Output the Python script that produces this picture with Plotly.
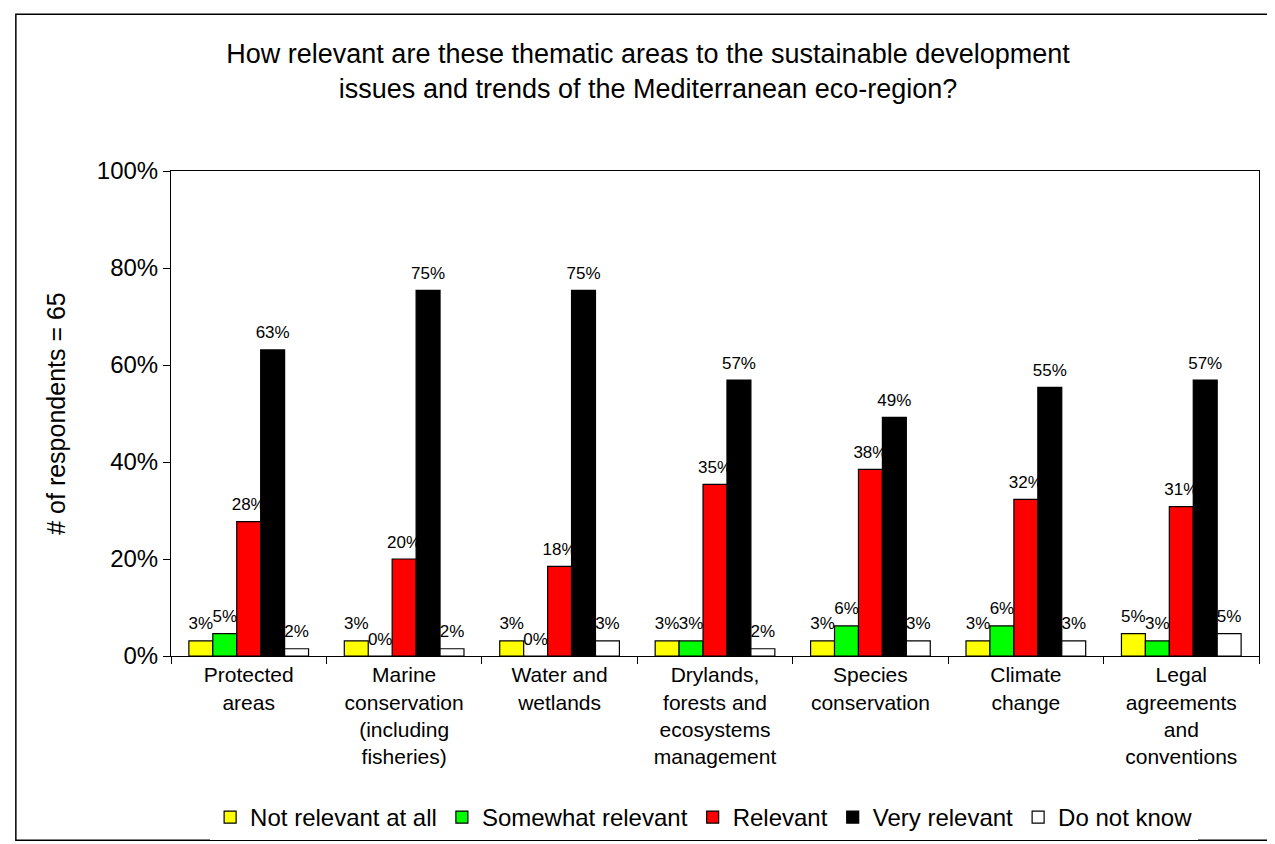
import plotly.graph_objects as go

categories = ["Protected<br>areas", "Marine<br>conservation<br>(including<br>fisheries)",
              "Water and<br>wetlands", "Drylands,<br>forests and<br>ecosystems<br>management",
              "Species<br>conservation", "Climate<br>change",
              "Legal<br>agreements<br>and<br>conventions"]

not_relevant = [0.031, 0.031, 0.031, 0.031, 0.031, 0.031, 0.046]
somewhat_relevant = [0.046, 0.0, 0.0, 0.031, 0.062, 0.062, 0.031]
relevant = [0.277, 0.200, 0.1846, 0.354, 0.3846, 0.323, 0.308]
very_relevant = [0.631, 0.754, 0.754, 0.569, 0.492, 0.554, 0.569]
do_not_know = [0.015, 0.015, 0.031, 0.015, 0.031, 0.031, 0.046]

series = [
    ("Not relevant at all", not_relevant, "#FFFF00"),
    ("Somewhat relevant", somewhat_relevant, "#00FF00"),
    ("Relevant", relevant, "#FF0000"),
    ("Very relevant", very_relevant, "#000000"),
    ("Do not know", do_not_know, "#FFFFFF"),
]

font_family = "Liberation Sans, Arial, sans-serif"

fig = go.Figure()
for i, (name, vals, color) in enumerate(series):
    fig.add_trace(go.Bar(
        name=name, x=categories, y=vals, offsetgroup=str(i),
        marker=dict(color=color, line=dict(color="black", width=1.2)),
    ))
for i, (name, vals, color) in enumerate(series):
    fig.add_trace(go.Scatter(
        name=name, x=categories, y=vals, offsetgroup=str(i),
        mode="markers+text", showlegend=False,
        marker=dict(size=10, opacity=0, color=color),
        text=[f"{v:.0%}" for v in vals], textposition="top center",
        textfont=dict(size=17, color="black", family=font_family),
        cliponaxis=False, hoverinfo="skip",
    ))

fig.update_layout(
    width=1275, height=844,
    barmode="group", bargap=0.23, bargroupgap=0,
    scattermode="group", scattergap=0.23,
    plot_bgcolor="white", paper_bgcolor="white",
    margin=dict(l=163, r=24, t=163, b=192),
    font=dict(family=font_family, color="black"),
    title=dict(
        text="How relevant are these thematic areas to the sustainable development<br>issues and trends of the Mediterranean eco-region?",
        x=0.502, xanchor="center", y=0.935, yanchor="middle",
        font=dict(size=27, family=font_family, color="black"),
    ),
    yaxis=dict(
        range=[0, 1], tickvals=[0, 0.2, 0.4, 0.6, 0.8, 1.0],
        ticktext=["0%", "20%", "40%", "60%", "80%", "100%"],
        ticks="outside", ticklen=7, tickcolor="black",
        showgrid=False, showline=True, linecolor="black", linewidth=1,
        mirror=True, zeroline=False,
        tickfont=dict(size=24, family=font_family),
        title=dict(text="# of respondents = 65", font=dict(size=25, family=font_family), standoff=24),
    ),
    xaxis=dict(
        tickson="boundaries", ticks="outside", ticklen=7, tickcolor="black",
        showline=True, linecolor="black", linewidth=1, mirror=True,
        tickfont=dict(size=21, family=font_family),
        tickangle=0,
    ),
    legend=dict(
        orientation="h", x=0.49, xanchor="center", y=-0.333, yanchor="middle",
        font=dict(size=24, family=font_family), traceorder="normal",
        itemwidth=30,
    ),
    showlegend=True,
)

fig.add_shape(type="rect", xref="paper", yref="paper",
              x0=-0.1426, x1=1.0166, y0=-0.380, y1=1.323,
              line=dict(color="black", width=1.5), fillcolor="rgba(0,0,0,0)", layer="below")

fig.write_html("out.html")
